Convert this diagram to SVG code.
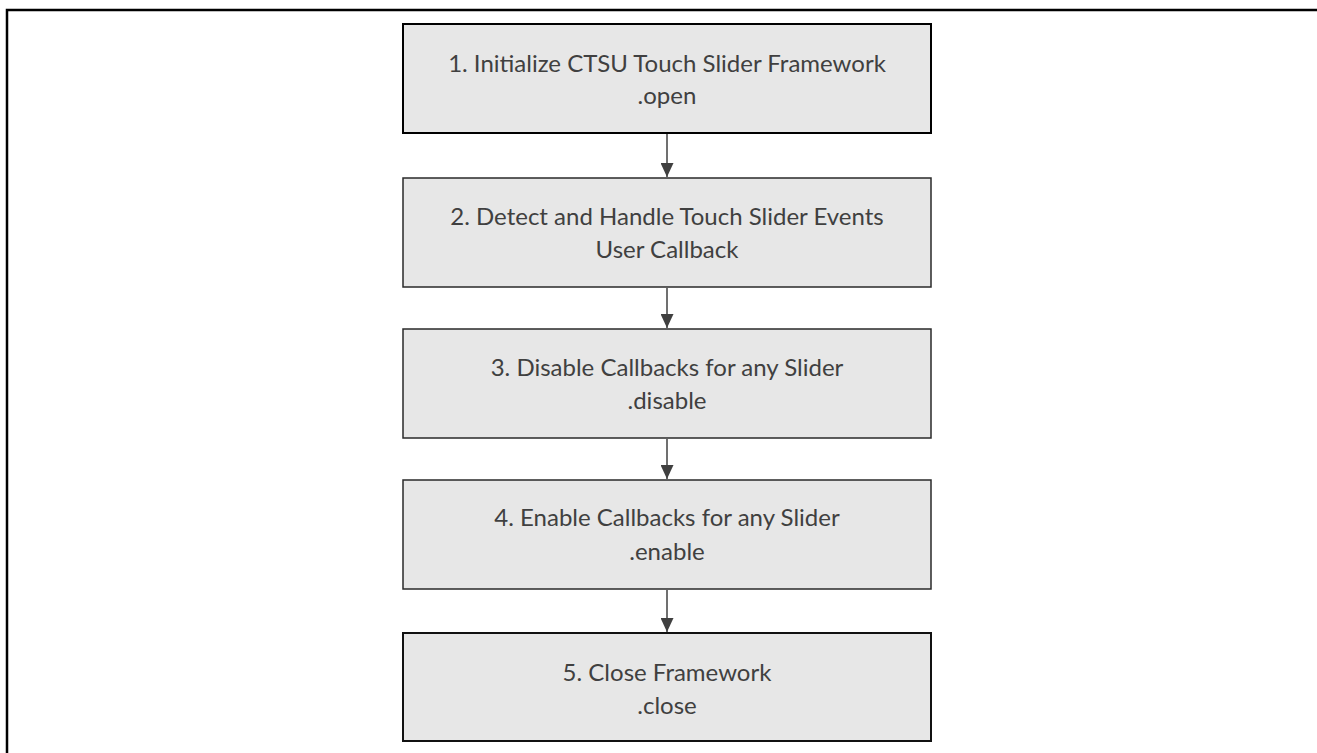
<svg xmlns="http://www.w3.org/2000/svg" width="1317" height="753" viewBox="0 0 1317 753">
<style>
.box{fill:#e7e7e7;stroke:#2a2a2a;stroke-width:1.5}
.t{font-family:Lato,"Open Sans",sans-serif;font-size:24px;fill:#404040;text-anchor:middle}
.c{stroke:#404040;stroke-width:1.5;fill:none}
</style>
<defs>
<marker id="ah" markerWidth="14" markerHeight="13" refX="14" refY="6.5" orient="auto" markerUnits="userSpaceOnUse">
<path d="M0,0 L14,6.5 L0,13 Z" fill="#404040"/>
</marker>
</defs>
<rect width="1317" height="753" fill="#fff"/>
<g id="frame">
<path d="M7,753 V10 H1317" fill="none" stroke="#000" stroke-width="2.5"/>
</g>
<g id="n1">
<rect class="box" x="403" y="24" width="528" height="109" style="stroke:#000;stroke-width:2"/>
<text class="t" x="667" y="72">1. Initialize CTSU Touch Slider Framework</text>
<text class="t" x="667" y="104">.open</text>
</g>
<g id="n2">
<rect class="box" x="403" y="178" width="528" height="109"/>
<text class="t" x="667" y="225">2. Detect and Handle Touch Slider Events</text>
<text class="t" x="667" y="258">User Callback</text>
</g>
<g id="n3">
<rect class="box" x="403" y="329" width="528" height="109"/>
<text class="t" x="667" y="376">3. Disable Callbacks for any Slider</text>
<text class="t" x="667" y="409">.disable</text>
</g>
<g id="n4">
<rect class="box" x="403" y="480" width="528" height="109"/>
<text class="t" x="667" y="526">4. Enable Callbacks for any Slider</text>
<text class="t" x="667" y="560">.enable</text>
</g>
<g id="n5">
<rect class="box" x="403" y="633" width="528" height="108" style="stroke:#111;stroke-width:2"/>
<text class="t" x="667" y="681">5. Close Framework</text>
<text class="t" x="667" y="714">.close</text>
</g>
<g id="connectors">
<line class="c" x1="667" y1="134" x2="667" y2="177" marker-end="url(#ah)"/>
<line class="c" x1="667" y1="288" x2="667" y2="328" marker-end="url(#ah)"/>
<line class="c" x1="667" y1="439" x2="667" y2="479" marker-end="url(#ah)"/>
<line class="c" x1="667" y1="590" x2="667" y2="632" marker-end="url(#ah)"/>
</g>
</svg>
